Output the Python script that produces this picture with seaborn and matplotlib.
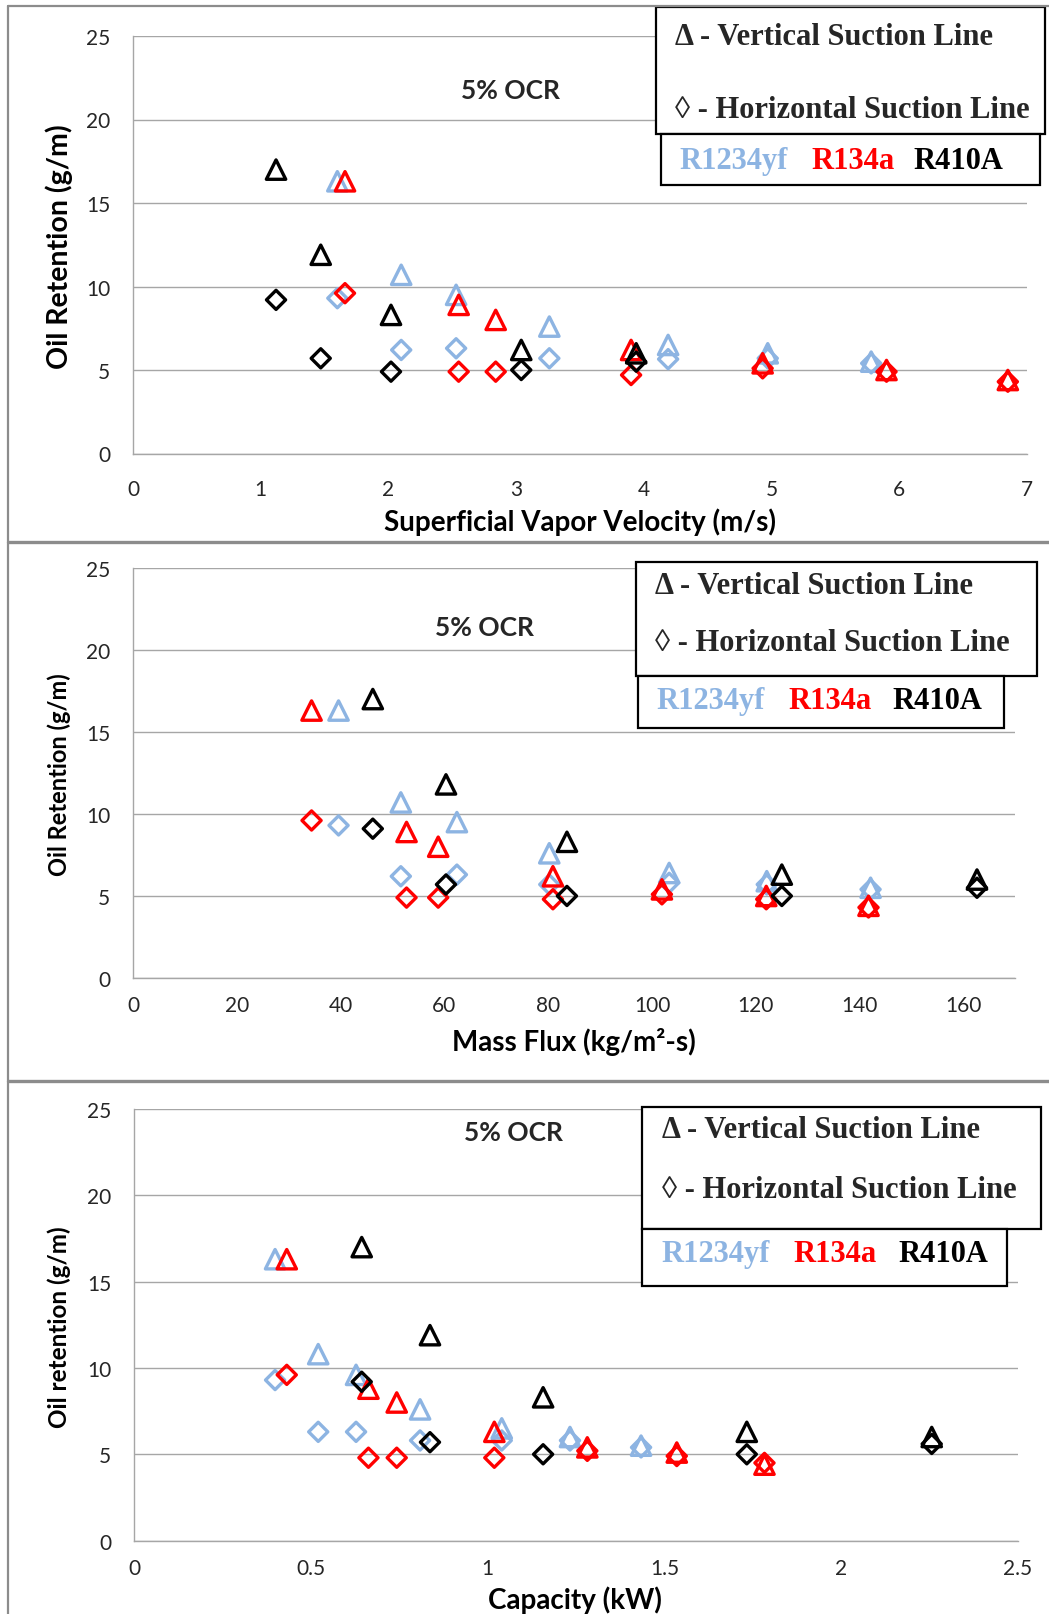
import matplotlib
matplotlib.use("Agg")
import matplotlib.pyplot as plt
import seaborn as sns
from matplotlib.patches import Rectangle
from matplotlib.lines import Line2D

W, H = 1049, 1615

# ---------------- data ----------------
refrigerants = ["R1234yf", "R134a", "R410A"]
ref_colors = ["#8DB4E2", "#FF0000", "#000000"]

# Panel 1: superficial vapor velocity (m/s)
vel_r1234yf = [1.60, 2.10, 2.53, 3.26, 4.19, 4.97, 5.78]
vel_r1234yf_vert = [16.3, 10.7, 9.5, 7.6, 6.5, 6.0, 5.5]
vel_r1234yf_horz = [9.3, 6.2, 6.3, 5.7, 5.65, 5.7, 5.4]
vel_r134a = [1.66, 2.55, 2.84, 3.90, 4.93, 5.90, 6.85]
vel_r134a_vert = [16.3, 8.9, 8.0, 6.2, 5.4, 5.0, 4.4]
vel_r134a_horz = [9.6, 4.9, 4.9, 4.7, 5.1, 4.9, 4.3]
vel_r410a = [1.12, 1.47, 2.02, 3.04, 3.94]
vel_r410a_vert = [17.0, 11.9, 8.3, 6.2, 6.0]
vel_r410a_horz = [9.2, 5.7, 4.9, 5.0, 5.5]

# Panel 2: mass flux (kg/m2-s)
flux_r1234yf = [39.6, 51.6, 62.4, 80.2, 103.3, 122.1, 142.1]
flux_r1234yf_vert = [16.3, 10.7, 9.5, 7.6, 6.4, 5.9, 5.5]
flux_r1234yf_horz = [9.3, 6.2, 6.3, 5.7, 5.8, 5.7, 5.4]
flux_r134a = [34.4, 52.7, 58.8, 80.9, 101.9, 122.0, 141.7]
flux_r134a_vert = [16.3, 8.9, 8.0, 6.2, 5.4, 5.0, 4.4]
flux_r134a_horz = [9.6, 4.9, 4.9, 4.8, 5.1, 4.8, 4.3]
flux_r410a = [46.2, 60.3, 83.6, 125.0, 162.6]
flux_r410a_vert = [17.0, 11.8, 8.3, 6.3, 6.0]
flux_r410a_horz = [9.1, 5.7, 5.0, 5.0, 5.5]

# Panel 3: capacity (kW)
cap_r1234yf = [0.399, 0.521, 0.628, 0.809, 1.040, 1.233, 1.434]
cap_r1234yf_vert = [16.3, 10.8, 9.6, 7.6, 6.5, 6.0, 5.5]
cap_r1234yf_horz = [9.3, 6.3, 6.3, 5.8, 5.8, 5.8, 5.4]
cap_r134a = [0.432, 0.663, 0.743, 1.019, 1.282, 1.535, 1.783]
cap_r134a_vert = [16.3, 8.8, 8.0, 6.3, 5.4, 5.1, 4.4]
cap_r134a_horz = [9.6, 4.8, 4.8, 4.8, 5.2, 4.9, 4.5]
cap_r410a = [0.644, 0.837, 1.157, 1.733, 2.256]
cap_r410a_vert = [17.0, 11.9, 8.3, 6.3, 6.0]
cap_r410a_horz = [9.2, 5.7, 5.0, 5.0, 5.6]

y_ticks = [0, 5, 10, 15, 20, 25]
x_ticks_vel = [0, 1, 2, 3, 4, 5, 6, 7]
x_ticks_flux = [0, 20, 40, 60, 80, 100, 120, 140, 160]
x_ticks_cap = [0, 0.5, 1, 1.5, 2, 2.5]
x_ticklabels_cap = ["0", "0.5", "1", "1.5", "2", "2.5"]

legend_vert = "\u0394 - Vertical Suction Line"
legend_horz = "\u25CA - Horizontal Suction Line"
ocr_label = "5% OCR"

# ---------------- style ----------------
sns.set_theme(style="white")
plt.rcParams["font.family"] = ["Lato", "DejaVu Sans"]

GRID = "#a6a6a6"
TICKC = "#262626"
SERIF = ["Liberation Serif", "DejaVu Serif"]

fig = plt.figure(figsize=(W / 100, H / 100), dpi=100)
fig.patch.set_facecolor("white")


def fx(px):
    return px / W


def fy(py):
    return 1 - py / H


def make_axes(L, T, R, B):
    return fig.add_axes([L / W, 1 - B / H, (R - L) / W, (B - T) / H])


def draw_panel(ax, box, xs_list, xlim, xticks, xticklabels, xlabel, ylabel,
               xlab_px, ylab_px, xlab_fs, ylab_fs, xpad):
    L, T, R, B = box
    for (x, yv, yh), col in zip(xs_list, ref_colors):
        sns.scatterplot(x=x, y=yv, marker="^", s=195, facecolors="none",
                        edgecolor=col, color=col, linewidth=2.4, ax=ax,
                        legend=False, zorder=3)
        sns.scatterplot(x=x, y=yh, marker="D", s=95, facecolors="none",
                        edgecolor=col, color=col, linewidth=2.4, ax=ax,
                        legend=False, zorder=3)
    ax.set_xlim(*xlim)
    ax.set_ylim(0, 25)
    ax.set_yticks(y_ticks)
    ax.set_xticks(xticks)
    ax.set_xticklabels(xticklabels)
    ax.yaxis.grid(True, color=GRID, linewidth=1.0)
    ax.xaxis.grid(False)
    ax.set_axisbelow(True)
    for s in ["top", "right"]:
        ax.spines[s].set_visible(False)
    for s in ["left", "bottom"]:
        ax.spines[s].set_color(GRID)
        ax.spines[s].set_linewidth(1.0)
    ax.tick_params(axis="both", which="major", direction="out", length=6.5,
                   width=1.0, color=GRID, labelsize=15, labelcolor=TICKC)
    ax.tick_params(axis="y", pad=10)
    ax.tick_params(axis="x", pad=xpad)
    ax.set_xlabel(xlabel, fontsize=xlab_fs, fontweight="bold", color="black")
    ax.set_ylabel(ylabel, fontsize=ylab_fs, fontweight="bold", color="black")
    ax.xaxis.label.set_va("center")
    ax.yaxis.label.set_va("center")
    ax.xaxis.set_label_coords((xlab_px[0] - L) / (R - L), (B - xlab_px[1]) / (B - T))
    ax.yaxis.set_label_coords((ylab_px[0] - L) / (R - L), (B - ylab_px[1]) / (B - T))
    ax.set_facecolor("white")


def draw_legend(box1, box2, tx, ty1, ty2, rx, ry, fs):
    for (l, t, r, b) in (box1, box2):
        fig.add_artist(Rectangle((fx(l), fy(b)), (r - l) / W, (b - t) / H,
                                 transform=fig.transFigure, facecolor="white",
                                 edgecolor="black", linewidth=1.6, zorder=10))
    fig.text(fx(tx), fy(ty1), legend_vert, ha="left", va="center", fontsize=fs,
             fontweight="bold", family=SERIF, zorder=11)
    fig.text(fx(tx), fy(ty2), legend_horz, ha="left", va="center", fontsize=fs,
             fontweight="bold", family=SERIF, zorder=11)
    for name, col, x0 in zip(refrigerants, ref_colors, rx):
        fig.text(fx(x0), fy(ry), name, ha="left", va="center", fontsize=fs,
                 fontweight="bold", family=SERIF, color=col, zorder=11)


# Panel 1
box1 = (133, 37, 1027, 454.5)
ax1 = make_axes(*box1)
draw_panel(ax1, box1,
           [(vel_r1234yf, vel_r1234yf_vert, vel_r1234yf_horz),
            (vel_r134a, vel_r134a_vert, vel_r134a_horz),
            (vel_r410a, vel_r410a_vert, vel_r410a_horz)],
           (0, 7), x_ticks_vel, [str(v) for v in x_ticks_vel],
           "Superficial Vapor Velocity (m/s)", "Oil Retention (g/m)",
           (580, 522.5), (59, 247), 20, 20.5, 12)
fig.text(fx(510), fy(90.7), ocr_label, ha="center", va="center",
         fontsize=19, fontweight="bold")
draw_legend((656, 7.5, 1045, 135), (661, 135, 1040, 186), 675, 37.5, 110,
            (679, 811, 913), 161.5, 22)

# Panel 2
box2 = (133, 568.8, 1015.4, 979)
ax2 = make_axes(*box2)
draw_panel(ax2, box2,
           [(flux_r1234yf, flux_r1234yf_vert, flux_r1234yf_horz),
            (flux_r134a, flux_r134a_vert, flux_r134a_horz),
            (flux_r410a, flux_r410a_vert, flux_r410a_horz)],
           (0, 170), x_ticks_flux, [str(v) for v in x_ticks_flux],
           "Mass Flux (kg/m\u00b2-s)", "Oil Retention (g/m)",
           (574, 1042), (59, 775), 20, 17, 6)
fig.text(fx(484), fy(627.6), ocr_label, ha="center", va="center",
         fontsize=19, fontweight="bold")
draw_legend((636, 563.3, 1036.7, 676.7), (637.7, 676.7, 1004, 729.3), 655, 586.7, 644,
            (656.7, 788, 892.7), 701.7, 22)

# Panel 3
box3 = (134, 1110, 1018, 1541.6)
ax3 = make_axes(*box3)
draw_panel(ax3, box3,
           [(cap_r1234yf, cap_r1234yf_vert, cap_r1234yf_horz),
            (cap_r134a, cap_r134a_vert, cap_r134a_horz),
            (cap_r410a, cap_r410a_vert, cap_r410a_horz)],
           (0, 2.5), x_ticks_cap, x_ticklabels_cap,
           "Capacity (kW)", "Oil retention (g/m)",
           (575, 1600), (59, 1327), 20, 17.5, 6)
fig.text(fx(513), fy(1133.5), ocr_label, ha="center", va="center",
         fontsize=19, fontweight="bold")
draw_legend((642, 1108, 1041, 1229.5), (642, 1229.5, 1007, 1287), 661.6, 1130.5, 1191,
            (661.6, 793.5, 898.6), 1255, 22)

# Panel frames
FRAME = "#8c8c8c"
fig.add_artist(Line2D([fx(8.3), fx(8.3)], [fy(7.3), fy(1615)], transform=fig.transFigure,
                      color=FRAME, linewidth=1.6, zorder=12))
fig.add_artist(Line2D([fx(8.3), fx(1049)], [fy(7.3), fy(7.3)], transform=fig.transFigure,
                      color=FRAME, linewidth=1.6, zorder=12))
for yy in (543.3, 1082):
    fig.add_artist(Line2D([fx(8.3), fx(1049)], [fy(yy), fy(yy)], transform=fig.transFigure,
                          color=FRAME, linewidth=2.4, zorder=12))

fig.savefig("out.png", dpi=100, facecolor="white")
